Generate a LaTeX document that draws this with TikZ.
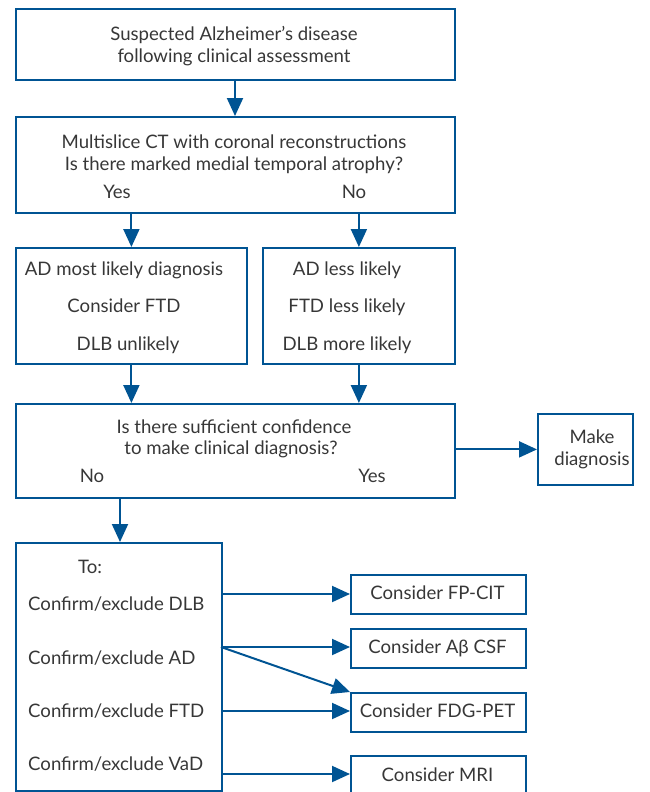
\documentclass[tikz,border=0pt]{standalone}
\usepackage{fontspec}
\setmainfont{Lato}
\usetikzlibrary{arrows.meta}
\definecolor{boxblue}{RGB}{0,84,147}
\definecolor{txt}{RGB}{55,55,55}
\tikzset{
  box/.style={draw=boxblue, line width=1.8pt, inner sep=0pt, anchor=north west},
  lbl/.style={text=txt, font=\fontsize{18.6}{22}\selectfont, inner sep=0pt, anchor=base},
  lbll/.style={lbl, anchor=base west},
  arr/.style={draw=boxblue, line width=2pt, -{Triangle[length=18pt,width=16pt]}},
}
\begin{document}
\begin{tikzpicture}[x=1pt,y=-1pt]
\useasboundingbox (0,0) rectangle (650,792);
\begin{scope}
\clip (0,0) rectangle (650,792);
% boxes
\node[box, minimum width=439pt, minimum height=71pt] (b1) at (15,8) {};
\node[box, minimum width=439pt, minimum height=96pt] (b2) at (15,116) {};
\node[box, minimum width=231pt, minimum height=116pt] (b3a) at (15,247) {};
\node[box, minimum width=192pt, minimum height=116pt] (b3b) at (262,247) {};
\node[box, minimum width=439pt, minimum height=94pt] (b4) at (15,403) {};
\node[box, minimum width=95pt, minimum height=71pt] (mk) at (537,413) {};
\node[box, minimum width=206pt, minimum height=248pt] (b5) at (15,542) {};
\node[box, minimum width=175pt, minimum height=39pt] (fp) at (350,574) {};
\node[box, minimum width=175pt, minimum height=39pt] (csf) at (350,628) {};
\node[box, minimum width=175pt, minimum height=39pt] (fdg) at (350,692) {};
\node[box, minimum width=175pt, minimum height=39pt] (mri) at (350,755) {};
\end{scope}
% texts
\node[lbl] (t1a) at (234,41) {Suspected Alzheimer’s disease};
\node[lbl] (t1b) at (234,63) {following clinical assessment};
\node[lbl] (t2a) at (234,148) {Multislice CT with coronal reconstructions};
\node[lbl] (t2b) at (234,170) {Is there marked medial temporal atrophy?};
\node[lbl] (t2y) at (117,198) {Yes};
\node[lbl] (t2n) at (354,198) {No};
\node[lbl] (t3a1) at (124,275) {AD most likely diagnosis};
\node[lbl] (t3a2) at (124,312) {Consider FTD};
\node[lbl] (t3a3) at (128,350) {DLB unlikely};
\node[lbl] (t3b1) at (347,275) {AD less likely};
\node[lbl] (t3b2) at (347,312) {FTD less likely};
\node[lbl] (t3b3) at (347,350) {DLB more likely};
\node[lbl] (t4a) at (234,433) {Is there sufficient confidence};
\node[lbl] (t4b) at (231,454) {to make clinical diagnosis?};
\node[lbl] (t4n) at (92,482) {No};
\node[lbl] (t4y) at (372,482) {Yes};
\node[lbl] (tmk1) at (592,443) {Make};
\node[lbl] (tmk2) at (592,465) {diagnosis};
\node[lbl] (t5) at (90,573) {To:};
\node[lbll] (t5a) at (28,610) {Confirm/exclude DLB};
\node[lbll] (t5b) at (28,664) {Confirm/exclude AD};
\node[lbll] (t5c) at (28,717) {Confirm/exclude FTD};
\node[lbll] (t5d) at (28,770) {Confirm/exclude VaD};
\node[lbl] (tfp) at (437.5,599.5) {Consider FP-CIT};
\node[lbl] (tcsf) at (437.5,653.5) {Consider Aβ CSF};
\node[lbl] (tfdg) at (437.5,717.5) {Consider FDG-PET};
\node[lbl] (tmri) at (437.5,781) {Consider MRI};
% coordinates
\coordinate (c5a) at (221,594);
\coordinate (c5b) at (221,647);
\coordinate (c5c) at (221,711);
\coordinate (c5d) at (221,774);
% arrows
\draw[arr] (b1.south -| 235,0) -- (b2.north -| 235,0);
\draw[arr] (b2.south -| b3a.north) -- (b3a.north);
\draw[arr] (b2.south -| b3b.north) -- (b3b.north);
\draw[arr] (b3a.south) -- (b4.north -| b3a.south);
\draw[arr] (b3b.south) -- (b4.north -| b3b.south);
\draw[arr] (b4.east |- mk.west) -- (mk.west);
\draw[arr] (b4.south -| 120,0) -- (b5.north -| 120,0);
\draw[arr] (c5a) -- (c5a -| fp.west);
\draw[arr] (c5b) -- (c5b -| csf.west);
\draw[arr] (c5b) -- (fdg.north west);
\draw[arr] (c5c) -- (c5c -| fdg.west);
\draw[arr] (c5d) -- (c5d -| mri.west);
\end{tikzpicture}
\end{document}
